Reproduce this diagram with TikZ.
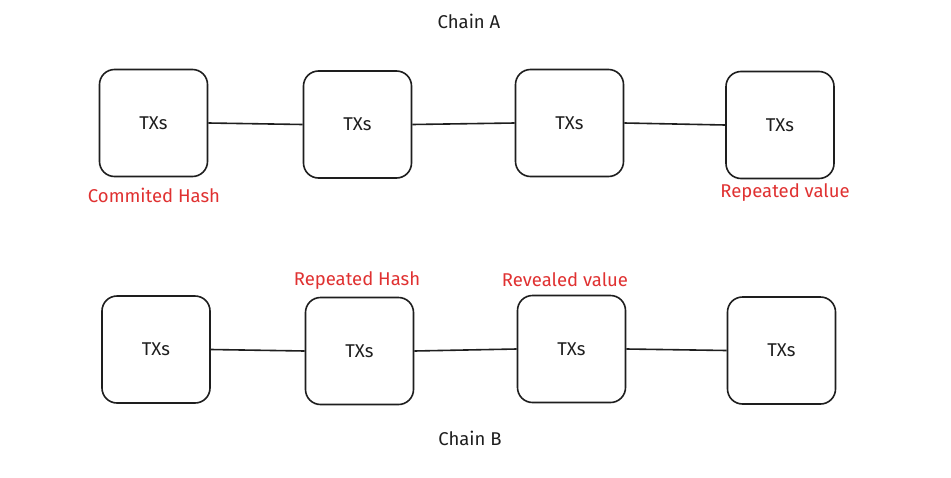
\documentclass[tikz,border=0pt]{standalone}
\usepackage{fontspec}
\setmainfont{Fira Sans}
\definecolor{ink}{HTML}{1E1E1E}
\definecolor{exred}{HTML}{E03131}
\begin{document}
\begin{tikzpicture}[x=1pt,y=-1pt,
  txbox/.style={draw=ink,line width=1.6pt,rounded corners=15pt,minimum width=108pt,minimum height=107pt,inner sep=0pt,fill=white,font=\fontsize{18.5}{22}\selectfont,text=ink},
  link/.style={draw=ink,line width=1.6pt},
  note/.style={text=exred,font=\fontsize{18.5}{22}\selectfont,inner sep=0pt},
  title/.style={text=ink,font=\fontsize{18.5}{22}\selectfont,inner sep=0pt}]
\useasboundingbox (0,0) rectangle (951,477);
\fill[white] (0,0) rectangle (951,477);
% Chain A
\node[title] (titleA) at (469,21) {Chain A};
\node[txbox] (a1) at (153.5,123) {TXs};
\node[txbox] (a2) at (357.5,124.5) {TXs};
\node[txbox] (a3) at (569.5,123) {TXs};
\node[txbox] (a4) at (780,125) {TXs};
\draw[link] (a1.east) -- (a2.west);
\draw[link] (a2.east) -- (a3.west);
\draw[link] (a3.east) -- (a4.west);
\node[note] (n1) at (154,195) {Commited Hash};
\node[note] (n2) at (785,193) {Repeated value};
% Chain B
\node[txbox] (b1) at (156,349.5) {TXs};
\node[txbox] (b2) at (359.5,351) {TXs};
\node[txbox] (b3) at (571.5,349) {TXs};
\node[txbox] (b4) at (781.5,350.5) {TXs};
\draw[link] (b1.east) -- (b2.west);
\draw[link] (b2.east) -- (b3.west);
\draw[link] (b3.east) -- (b4.west);
\node[note] (n3) at (357,281) {Repeated Hash};
\node[note] (n4) at (565,280) {Revealed value};
\node[title] (titleB) at (470,438) {Chain B};
\end{tikzpicture}
\end{document}
